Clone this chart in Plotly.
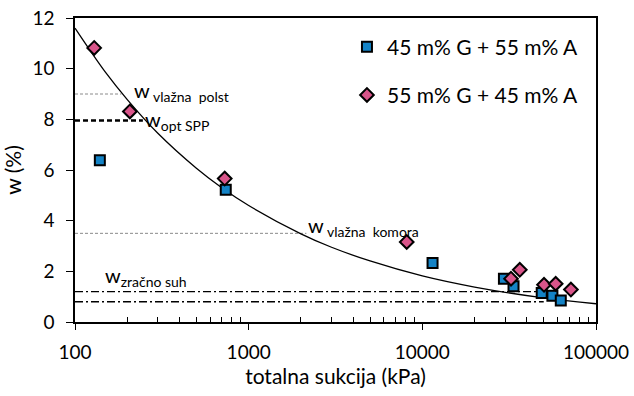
import math
import plotly.graph_objects as go

# Measured points: total suction (kPa) vs. water content w (%)
suction_a = [139, 738, 11450, 29500, 33500, 48700, 56100, 62700]
w_a = [6.38, 5.22, 2.33, 1.71, 1.41, 1.14, 1.04, 0.85]
label_a = "45 m% G + 55 m% A"

suction_b = [129, 207, 728, 8130, 36400, 32400, 50200, 58600, 71700]
w_b = [10.82, 8.31, 5.66, 3.16, 2.06, 1.71, 1.47, 1.51, 1.28]
label_b = "55 m% G + 45 m% A"

# Trend curve
trend_suction = [100, 150, 200, 300, 500, 700, 1000, 2000, 3000, 5000,
                 10000, 20000, 50000, 100000]
trend_w = [11.6, 9.85, 8.78, 7.45, 6.07, 5.30, 4.60, 3.48, 2.95, 2.41,
           1.82, 1.38, 0.95, 0.72]

# Reference water contents: level (%) and suction where the line ends (kPa)
w_vlazna_polst, end_vlazna_polst = 9.0, 185
w_opt_spp, end_opt_spp = 7.95, 246
w_vlazna_komora, end_vlazna_komora = 3.5, 2150
w_zracno_suh_hi, w_zracno_suh_lo, end_zracno_suh = 1.2, 0.8, 50000

x_ticks = [100, 1000, 10000, 100000]
x_minor = [m * 10 ** d for d in range(2, 5) for m in range(2, 10)]

FONT = "Lato, 'Open Sans', sans-serif"
BLUE = "#1483C6"
PINK = "#D9558A"

fig = go.Figure()

def hline(level, end, color, width, dash):
    fig.add_trace(go.Scatter(
        x=[x_ticks[0], end], y=[level, level], mode="lines",
        line=dict(color=color, width=width, dash=dash),
        showlegend=False, hoverinfo="skip"))

hline(w_vlazna_polst, end_vlazna_polst, "#8a8a8a", 1, "3px,2px")
hline(w_opt_spp, end_opt_spp, "#000000", 2.5, "5px,3px")
hline(w_vlazna_komora, end_vlazna_komora, "#8a8a8a", 1, "3px,2px")
hline(w_zracno_suh_hi, end_zracno_suh, "#000000", 1.4, "8px,3px,2px,3px")
hline(w_zracno_suh_lo, end_zracno_suh, "#000000", 1.4, "8px,3px,2px,3px")

fig.add_trace(go.Scatter(
    x=trend_suction, y=trend_w, mode="lines",
    line=dict(color="#000000", width=1.3, shape="spline"),
    showlegend=False, hoverinfo="skip"))

fig.add_trace(go.Scatter(
    x=suction_a, y=w_a, mode="markers", name=label_a, legendgroup="a",
    marker=dict(symbol="square", size=10, color=BLUE,
                line=dict(color="#000000", width=2))))
fig.add_trace(go.Scatter(
    x=suction_b, y=w_b, mode="markers", name=label_b, legendgroup="b",
    marker=dict(symbol="diamond", size=10.5, color=PINK,
                line=dict(color="#000000", width=2))))

def label(x, y, sub):
    fig.add_annotation(
        x=math.log10(x), y=y, xref="x", yref="y",
        xanchor="left", yanchor="middle", showarrow=False,
        text="w<sub>" + sub + "</sub>",
        font=dict(family=FONT, size=20, color="#000000"))

label(212, 9.08, "&nbsp;vlažna&nbsp;&nbsp;polst")
label(246, 7.95, "opt SPP")
label(2130, 3.78, "&nbsp;vlažna&nbsp;&nbsp;komora")
label(145, 1.8, "zračno suh")

axis_common = dict(
    showline=True, linecolor="#000000", linewidth=1.5, mirror=True,
    showgrid=False, zeroline=False, automargin=False,
    tickfont=dict(family=FONT, size=19, color="#000000"),
    title_font=dict(family=FONT, size=21, color="#000000"),
    tickcolor="#000000",
)

fig.update_xaxes(
    type="log", range=[2, 5],
    tickmode="array", tickvals=x_ticks, ticktext=[str(v) for v in x_ticks],
    ticks="outside", ticklen=6, ticklabelstandoff=6,
    minor=dict(tickmode="array", tickvals=x_minor, ticks="inside",
               ticklen=5, tickcolor="#000000", showgrid=False),
    title_text="totalna sukcija (kPa)", title_standoff=0,
    **axis_common)
fig.update_yaxes(
    range=[0, 12], dtick=2, ticks="outside", ticklen=7, ticklabelstandoff=8,
    title_text="w (%)", title_standoff=6,
    **axis_common)

fig.update_layout(
    width=634, height=396,
    margin=dict(l=75, r=38, t=18, b=74),
    paper_bgcolor="#ffffff", plot_bgcolor="#ffffff",
    font=dict(family=FONT, color="#000000"),
    legend=dict(
        x=0.522, y=0.972, xanchor="left", yanchor="top",
        bgcolor="rgba(0,0,0,0)", tracegroupgap=18,
        font=dict(family=FONT, size=21, color="#000000")),
)

fig.write_html("out.html")
